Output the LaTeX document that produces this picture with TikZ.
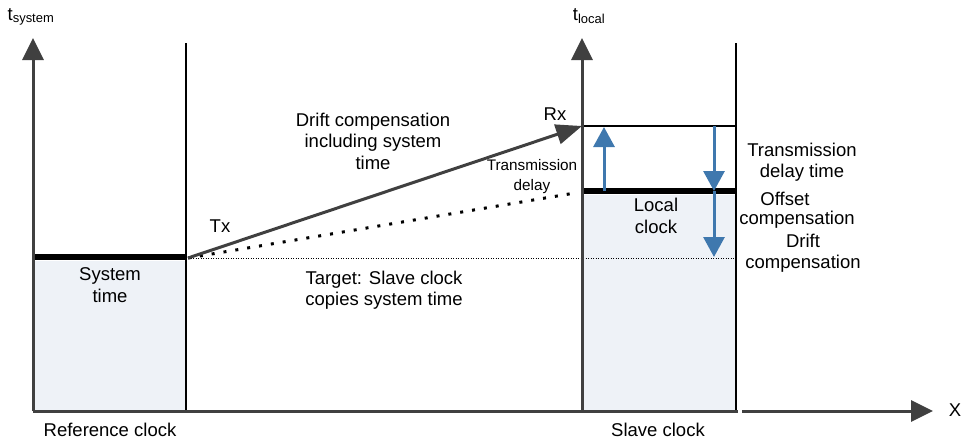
\documentclass[tikz,border=0pt]{standalone}
\usepackage{fontspec}
\setmainfont{Liberation Sans}
\usetikzlibrary{arrows.meta}
\definecolor{axisgray}{HTML}{404040}
\definecolor{arrowblue}{HTML}{3F78AE}
\definecolor{fillblue}{HTML}{EEF2F7}
\begin{document}
\begin{tikzpicture}[x=1pt,y=-1pt,
  lbl/.style={font=\fontsize{18.5}{21.5}\selectfont, align=center, inner sep=0pt},
  smalllbl/.style={font=\fontsize{15.3}{20}\selectfont, align=center, inner sep=0pt},
  axisline/.style={draw=axisgray, line width=3pt},
  axisarrow/.style={axisline, -{Triangle[length=22pt,width=21pt]}},
  wall/.style={draw=black, line width=2pt},
  bar/.style={draw=black, line width=5.5pt},
  bluearrow/.style={draw=arrowblue, line width=3pt, -{Triangle[length=20pt,width=21pt]}},
  txarrow/.style={draw=axisgray, line width=3pt, -{Triangle[length=26pt,width=20pt]}},
  bigdots/.style={draw=black, line width=3pt, dash pattern=on 3pt off 9pt},
  finedots/.style={draw=black, line width=0.9pt, dash pattern=on 1pt off 1.5pt},
  clockfill/.style={fill=fillblue, draw=none}
]
\useasboundingbox (0,0) rectangle (962,442);

% coordinates
\coordinate (O) at (33,411);
\coordinate (ytip) at (33,38);
\coordinate (Rtop) at (186,43);
\coordinate (Rbot) at (186,411);
\coordinate (S) at (582,411);
\coordinate (stip) at (582,38);
\coordinate (SRtop) at (736,43);
\coordinate (SRbot) at (736,411);
\coordinate (xgapA) at (738,411);
\coordinate (xgapB) at (742,411);
\coordinate (xtip) at (933,411);
\coordinate (tx) at (188,258);
\coordinate (rx) at (582,126);
\coordinate (dotend) at (575,193);
\coordinate (tgt) at (736,258);
\coordinate (sysL) at (33,257);
\coordinate (sysR) at (186,257);
\coordinate (locL) at (582,191);
\coordinate (locR) at (736,191);
\coordinate (topR) at (736,126);
\coordinate (upA) at (604,191);
\coordinate (upB) at (604,127);
\coordinate (dnA) at (714,126);
\coordinate (dnB) at (714,191);
\coordinate (dnC) at (714,257);

% fills
\path[clockfill] (34,261) rectangle (185,410);
\path[clockfill] (584,195) rectangle (735,410);

% fine dotted target line
\draw[finedots] (tx) -- (tgt);

% bars and top line
\draw[bar] (sysL) -- (sysR);
\draw[bar] (locL) -- (locR);
\draw[draw=black, line width=1.2pt] (rx) -- (topR);

% walls
\draw[wall] (Rtop) -- (Rbot);
\draw[wall] (SRtop) -- (SRbot);

% axes
\draw[axisarrow] (O) -- (ytip);
\draw[axisarrow] (S) -- (stip);
\draw[axisline] (O) -- (xgapA);
\draw[axisarrow] (xgapB) -- (xtip);

% Tx -> Rx
\draw[bigdots] (tx) -- (dotend);
\draw[txarrow] (tx) -- (rx);

% blue arrows
\draw[bluearrow] (upA) -- (upB);
\draw[bluearrow] (dnA) -- (dnB);
\draw[bluearrow] (dnB) -- (dnC);

% labels
\node[lbl, anchor=base] (tsys) at (31,20) {t\textsubscript{system}};
\node[lbl, anchor=base] (tloc) at (589,20) {t\textsubscript{local}};
\node[lbl] (xl) at (955,410) {X};
\node[lbl] (drift) at (373,141) {Drift compensation\\including system\\time};
\node[lbl] (txl) at (220,226) {Tx};
\node[lbl] (rxl) at (555,114) {Rx};
\node[smalllbl] (tdelay) at (532,177) {Transmission\\delay};
\node[lbl] (local) at (656,216) {Local\\clock};
\node[lbl] (system) at (110,285) {System\\time};
\node[lbl] (target) at (384,290) {Target: Slave clock\\copies system time};
\node[lbl] (tdtime) at (802,162) {Transmission\\delay time};
\node[lbl] (offset) at (785,199) {Offset};
\node[lbl] (offcomp) at (797,220) {compensation};
\node[lbl] (driftc) at (803,253) {Drift\\compensation};
\node[lbl] (refclk) at (110,430) {Reference clock};
\node[lbl] (slvclk) at (658,430) {Slave clock};
\end{tikzpicture}
\end{document}
